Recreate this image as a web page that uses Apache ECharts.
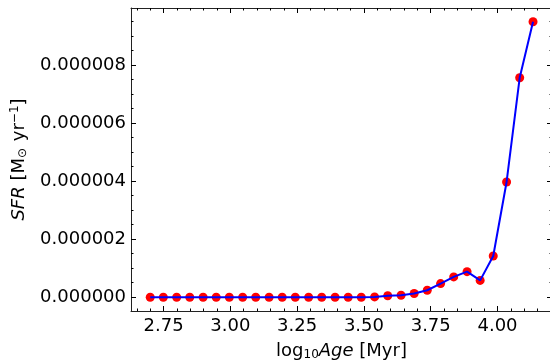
<!DOCTYPE html>
<html>
<head>
<meta charset="utf-8">
<script src="https://cdn.jsdelivr.net/npm/echarts@6/dist/echarts.min.js"></script>
<style>html,body{margin:0;padding:0;background:#fff;}#c{width:550px;height:362px;}</style>
</head>
<body>
<div id="c"></div>
<script>
// Data
var logAge = [2.700, 2.749, 2.799, 2.848, 2.898, 2.947, 2.996, 3.046, 3.095, 3.145,
              3.194, 3.243, 3.293, 3.342, 3.392, 3.441, 3.490, 3.540, 3.589, 3.639,
              3.688, 3.737, 3.787, 3.836, 3.886, 3.935, 3.984, 4.034, 4.083, 4.133];
var sfr = [0, 0, 0, 0, 0, 0, 0, 0, 0, 0,
           0, 0, 0, 0, 0, 0, 0, 0.01e-6, 0.05e-6, 0.07e-6,
           0.13e-6, 0.24e-6, 0.47e-6, 0.70e-6, 0.88e-6, 0.58e-6, 1.42e-6, 3.97e-6, 7.56e-6, 9.49e-6];
var xMajorTicks = [2.75, 3.00, 3.25, 3.50, 3.75, 4.00];
var xMinorTicks = [2.65, 2.70, 2.80, 2.85, 2.90, 2.95, 3.05, 3.10, 3.15, 3.20, 3.30, 3.35, 3.40, 3.45,
                   3.55, 3.60, 3.65, 3.70, 3.80, 3.85, 3.90, 3.95, 4.05, 4.10, 4.15, 4.20];
var yMajorTicks = [0, 2e-6, 4e-6, 6e-6, 8e-6];
var yMinorTicks = [0.5e-6, 1e-6, 1.5e-6, 2.5e-6, 3e-6, 3.5e-6, 4.5e-6, 5e-6, 5.5e-6,
                   6.5e-6, 7e-6, 7.5e-6, 8.5e-6, 9e-6, 9.5e-6];

var X_MIN = 2.628, X_MAX = 4.204, Y_MIN = -0.4745e-6, Y_MAX = 9.9645e-6;
var FONT = 'DejaVu Sans';
var FS = 18;

var points = logAge.map(function (x, i) { return [x, sfr[i]]; });

function xAxisDef(pos, ticks, len, showLabels, showLine) {
  return {
    type: 'value', position: pos, min: X_MIN, max: X_MAX,
    axisLine: { show: showLine, onZero: false, lineStyle: { color: '#222', width: 1 } },
    splitLine: { show: false },
    axisTick: { show: true, inside: true, length: len, customValues: ticks, lineStyle: { color: '#000', width: 1 } },
    axisLabel: showLabels ? {
      show: true, customValues: ticks, margin: 6, color: '#000',
      fontFamily: FONT, fontSize: FS,
      formatter: function (v) { return v.toFixed(2); }
    } : { show: false }
  };
}
function yAxisDef(pos, ticks, len, showLabels, showLine) {
  return {
    type: 'value', position: pos, min: Y_MIN, max: Y_MAX,
    axisLine: { show: showLine, onZero: false, lineStyle: { color: '#222', width: 1 } },
    splitLine: { show: false },
    axisTick: { show: true, inside: true, length: len, customValues: ticks, lineStyle: { color: '#000', width: 1 } },
    axisLabel: showLabels ? {
      show: true, customValues: ticks, margin: 5, color: '#000',
      fontFamily: FONT, fontSize: FS,
      formatter: function (v) { return (Math.abs(v) < 1e-12 ? 0 : v).toFixed(6); }
    } : { show: false }
  };
}

var xMain = xAxisDef('bottom', xMajorTicks, 5, true, true);
xMain.name = '{n|log}{sub|10}{it|Age}{n| [Myr]}';
xMain.nameLocation = 'middle';
xMain.nameGap = 30;
xMain.nameTextStyle = {
  fontFamily: FONT, fontSize: FS, color: '#000',
  rich: {
    n: { fontFamily: FONT, fontSize: FS, color: '#000' },
    it: { fontFamily: FONT, fontSize: FS, fontStyle: 'italic', color: '#000' },
    sub: { fontFamily: FONT, fontSize: 12, color: '#000', verticalAlign: 'bottom', padding: [8, 0, 0, 0] }
  }
};

var yMain = yAxisDef('left', yMajorTicks, 5, true, true);
yMain.name = '{it|SFR}{n| [M}{sub|⊙}{n| yr}{sup|−1}{n|]}';
yMain.nameLocation = 'middle';
yMain.nameRotate = 90;
yMain.nameGap = 102;
yMain.nameTextStyle = {
  fontFamily: FONT, fontSize: FS, color: '#000',
  rich: {
    n: { fontFamily: FONT, fontSize: FS, color: '#000' },
    it: { fontFamily: FONT, fontSize: FS, fontStyle: 'italic', color: '#000' },
    sub: { fontFamily: FONT, fontSize: 12, color: '#000', verticalAlign: 'bottom', padding: [6, 1, 0, 0] },
    sup: { fontFamily: FONT, fontSize: 12, color: '#000', verticalAlign: 'top', padding: [0, 0, 8, 0] }
  }
};

var option = {
  animation: false,
  backgroundColor: '#fff',
  grid: { left: 131, right: -2, top: 8, bottom: 51, containLabel: false, outerBoundsMode: 'none' },
  xAxis: [
    xMain,
    xAxisDef('bottom', xMinorTicks, 2.5, false, false),
    xAxisDef('top', xMajorTicks, 5, false, true),
    xAxisDef('top', xMinorTicks, 2.5, false, false)
  ],
  yAxis: [
    yMain,
    yAxisDef('left', yMinorTicks, 2.5, false, false),
    yAxisDef('right', yMajorTicks, 5, false, true),
    yAxisDef('right', yMinorTicks, 2.5, false, false)
  ],
  series: [
    {
      type: 'scatter', xAxisIndex: 0, yAxisIndex: 0, data: points,
      symbol: 'circle', symbolSize: 9, z: 2,
      itemStyle: { color: '#ff0000', opacity: 1 }
    },
    {
      type: 'line', xAxisIndex: 0, yAxisIndex: 0, data: points,
      showSymbol: false, symbol: 'none', z: 3,
      lineStyle: { color: '#0000ff', width: 2 }
    }
  ]
};
var chart = echarts.init(document.getElementById('c'), null, { renderer: 'canvas' });
chart.setOption(option);
</script>
</body>
</html>
